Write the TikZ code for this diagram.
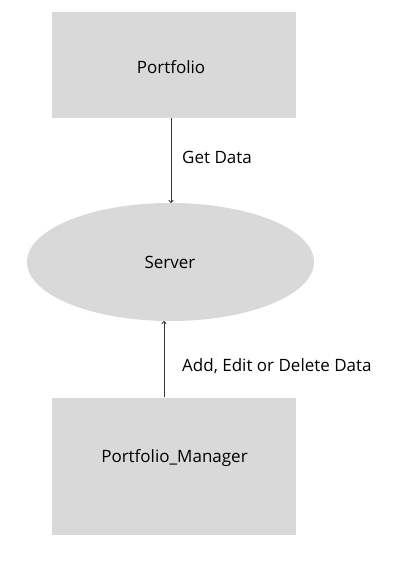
\documentclass[tikz,border=0pt]{standalone}
\usepackage{fontspec}
\setmainfont{Open Sans}
\usetikzlibrary{shapes.geometric,arrows.meta}
\definecolor{boxgray}{HTML}{D9D9D9}
\tikzset{
  blk/.style={fill=boxgray, draw=none, inner sep=0pt},
  txt/.style={inner sep=0pt, font=\fontsize{17}{20}\selectfont},
  conn/.style={draw=black!80, line width=0.8pt, -{To[length=3pt,width=5pt]}},
  lbl/.style={anchor=west, inner sep=0pt, font=\fontsize{17}{20}\selectfont}
}
\begin{document}
\begin{tikzpicture}[x=1pt,y=-1pt]
\useasboundingbox[fill=white] (0,0) rectangle (407,568);
\node[blk, rectangle, minimum width=244pt, minimum height=106pt] (pf) at (174,65) {};
\node[txt] (pft) at (171,67) {Portfolio};
\node[blk, ellipse, minimum width=287pt, minimum height=118pt] (srv) at (170.5,262) {};
\node[txt] (srvt) at (170,262) {Server};
\node[blk, rectangle, minimum width=244pt, minimum height=137pt] (pm) at (174,466.5) {};
\node[txt] (pmt) at (174.5,458) {Portfolio\_Manager};
\coordinate (a1s) at (171,118);
\coordinate (a1e) at (171,203);
\coordinate (a2s) at (164,397);
\coordinate (a2e) at (164,321);
\draw[conn] (a1s) -- (a1e);
\draw[conn] (a2s) -- (a2e);
\node[lbl] (l1) at (182,157) {Get Data};
\node[lbl] (l2) at (182,366) {Add, Edit or Delete Data};
\end{tikzpicture}
\end{document}
